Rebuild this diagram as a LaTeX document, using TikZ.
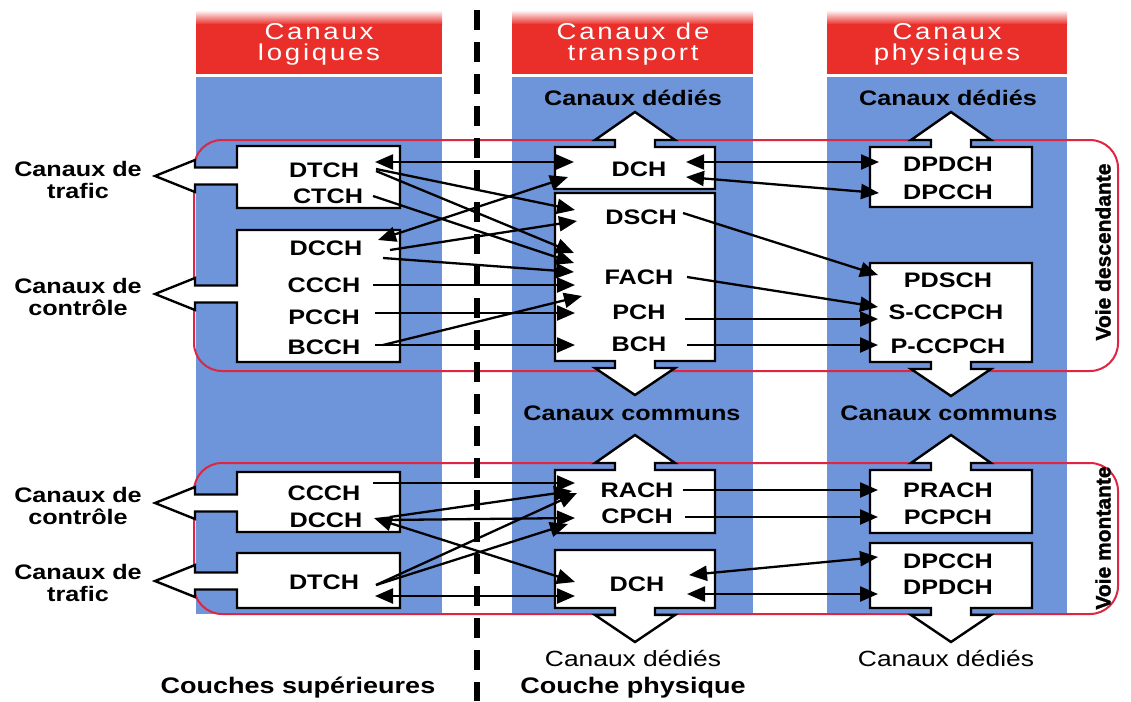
\documentclass[tikz,border=0pt]{standalone}
\usepackage{fontspec}
\setmainfont{Liberation Sans}
\newfontfamily\lblfont[FakeStretch=1.2]{Liberation Sans}
\newfontfamily\hdrfont[FakeStretch=1.2,LetterSpace=12]{Liberation Sans}
\newfontfamily\voiefont[FakeBold=1.5]{Liberation Sans Bold}
\usetikzlibrary{arrows.meta,calc}
\definecolor{colblue}{RGB}{110,148,218}
\definecolor{hdrred}{RGB}{234,46,42}
\definecolor{voiered}{RGB}{222,38,66}

% box with a left-pointing arrow (stem + head) on its left side
\newcommand\chanleftbox[5]{%
  \draw[chanbox] (#1,#2) -- (#3,#2) -- (#3,#4) -- (#1,#4) -- (#1,{#5+8.5})
    -- (195,{#5+8.5}) -- (195,{#5+16}) -- (155,#5) -- (195,{#5-16})
    -- (195,{#5-8.5}) -- (#1,{#5-8.5}) -- cycle;}
% box with an upward arrow on its top side
\newcommand\chanupbox[5]{%
  \draw[chanbox] (#1,#2) -- ({#5-20},#2) -- ({#5-20},{#2-7}) -- ({#5-40},{#2-7})
    -- (#5,{#2-35}) -- ({#5+40},{#2-7}) -- ({#5+20},{#2-7}) -- ({#5+20},#2)
    -- (#3,#2) -- (#3,#4) -- (#1,#4) -- cycle;}
% box with a downward arrow on its bottom side
\newcommand\chandownbox[5]{%
  \draw[chanbox] (#1,#2) -- (#3,#2) -- (#3,#4) -- ({#5+20},#4) -- ({#5+20},{#4+7})
    -- ({#5+40},{#4+7}) -- (#5,{#4+34}) -- ({#5-40},{#4+7}) -- ({#5-20},{#4+7})
    -- ({#5-20},#4) -- (#1,#4) -- cycle;}

\tikzset{
  chanbox/.style={draw=black, line width=2.4pt, fill=white, line join=miter},
  chan/.style={font=\lblfont\fontsize{21}{24}\bfseries\selectfont, inner sep=0pt},
  lbl/.style={font=\lblfont\fontsize{21}{22.5}\bfseries\selectfont, inner sep=0pt, align=center},
  lblreg/.style={font=\lblfont\fontsize{22}{24}\selectfont, inner sep=0pt},
  hdr/.style={font=\hdrfont\fontsize{23}{21}\selectfont, text=white, inner sep=0pt, align=center},
  voie/.style={draw=voiered, line width=2pt, rounded corners=28pt},
  voietxt/.style={font=\voiefont\fontsize{21}{24}\selectfont, inner sep=0pt, rotate=90},
  tipshape/.tip={Triangle[length=18pt,width=15pt]},
  link/.style={line width=2.3pt, -tipshape},
  dlink/.style={line width=2.3pt, tipshape-tipshape},
  divider/.style={line width=5.5pt, dash pattern=on 20pt off 12pt}
}

\begin{document}
\begin{tikzpicture}[x=1pt,y=-1pt]
\useasboundingbox (0,0) rectangle (1131,701);
\fill[white] (0,0) rectangle (1131,701);

% blue columns and red headers
\foreach \a/\b in {196/442,512/753,827/1067}{
  \fill[colblue] (\a,77) rectangle (\b,614);
  \shade[top color=white,bottom color=hdrred] (\a,10) rectangle (\b,24.5);
  \fill[hdrred] (\a,24) rectangle (\b,74);
}
\node[hdr] (hL) at (319,44) {Canaux\\logiques};
\node[hdr] (hT) at (633,44) {Canaux de\\transport};
\node[hdr] (hP) at (947,44) {Canaux\\physiques};

% downlink / uplink frames
\draw[voie] (194,140) rectangle (1118,371);
\draw[voie] (194,463) rectangle (1118,614);

% layer separator
\coordinate (dtop) at (477,10);
\coordinate (dbot) at (477,701);
\draw[divider] (dtop) -- (dbot);

% logical channel boxes
\chanleftbox{237}{146}{400}{208}{176}
\chanleftbox{237}{230}{400}{362}{294}
\chanleftbox{237}{472}{400}{532}{503}
\chanleftbox{237}{553}{400}{608}{581}
% transport channel boxes
\chanupbox{555}{147}{715}{189}{635}
\chandownbox{555}{193}{715}{361}{635}
\chanupbox{555}{470}{715}{533}{635}
\chandownbox{555}{550}{715}{608}{635}
% physical channel boxes
\chanupbox{870}{147}{1032}{207}{951}
\chandownbox{870}{263}{1032}{362}{951}
\chanupbox{870}{470}{1032}{533}{951}
\chandownbox{870}{543}{1032}{608}{951}

% group labels
\node[lbl] (gtrafA) at (78,180) {Canaux de\\trafic};
\node[lbl] (gctrlB) at (78,297) {Canaux de\\contrôle};
\node[lbl] (gctrlC) at (78,506) {Canaux de\\contrôle};
\node[lbl] (gtrafD) at (78,583) {Canaux de\\trafic};

\node[lbl] (cdT) at (633,98) {Canaux dédiés};
\node[lbl] (cdP) at (948,98) {Canaux dédiés};
\node[lbl] (ccT) at (632,413) {Canaux communs};
\node[lbl] (ccP) at (949,413) {Canaux communs};
\node[lblreg] (cdT2) at (633,658) {Canaux dédiés};
\node[lblreg] (cdP2) at (946,658) {Canaux dédiés};
\node[lbl, font=\lblfont\fontsize{22.5}{24}\bfseries\selectfont] (csup) at (298,688) {Couches supérieures};
\node[lbl, font=\lblfont\fontsize{22.5}{24}\bfseries\selectfont] (cphy) at (633,688) {Couche physique};
\node[voietxt] (vdesc) at (1103,252) {Voie descendante};
\node[voietxt] (vmont) at (1103,538) {Voie montante};

% channel names
\node[chan] (dtchA) at (324,170) {DTCH};
\node[chan] (ctchA) at (328,196) {CTCH};
\node[chan] (dcchB) at (326,248) {DCCH};
\node[chan] (ccchB) at (324,285) {CCCH};
\node[chan] (pcchB) at (324,317) {PCCH};
\node[chan] (bcchB) at (324,347) {BCCH};
\node[chan] (ccchC) at (324,493) {CCCH};
\node[chan] (dcchC) at (326,520) {DCCH};
\node[chan] (dtchD) at (324,582) {DTCH};
\node[chan] (dchE) at (639,169) {DCH};
\node[chan] (dschF) at (641,217) {DSCH};
\node[chan] (fachF) at (639,277) {FACH};
\node[chan] (pchF) at (639,312) {PCH};
\node[chan] (bchF) at (639,344) {BCH};
\node[chan] (rachG) at (637,490) {RACH};
\node[chan] (cpchG) at (637,516) {CPCH};
\node[chan] (dchH) at (637,584) {DCH};
\node[chan] (dpdchI) at (948,164) {DPDCH};
\node[chan] (dpcchI) at (948,192) {DPCCH};
\node[chan] (pdschJ) at (948,280) {PDSCH};
\node[chan] (sccpchJ) at (946,312) {S-CCPCH};
\node[chan] (pccpchJ) at (948,346) {P-CCPCH};
\node[chan] (prachK) at (948,490) {PRACH};
\node[chan] (pcpchK) at (948,517) {PCPCH};
\node[chan] (dpcchL) at (948,561) {DPCCH};
\node[chan] (dpdchL) at (948,587) {DPDCH};

% port columns
\coordinate (lout) at (375,0);
\coordinate (tin) at (574,0);
\coordinate (tout) at (686,0);
\coordinate (pin) at (879,0);

% downlink: logical -> transport
\draw[dlink] ($(dtchA.center -| lout)+(0,-8)$) -- ($(dchE.center -| tin)+(0,-7)$);
\draw[link] ($(dtchA.center -| lout)+(1,-1)$) -- ($(dschF.center -| tin)+(1,-7)$);
\draw[link] ($(dtchA.center -| lout)+(1,1)$) -- ($(fachF.center -| tin)+(0,-24)$);
\draw[link] ($(ctchA.center -| lout)+(-2,0)$) -- ($(fachF.center -| tin)+(0,-14)$);
\draw[dlink] ($(dcchB.center -| lout)+(3,-8)$) -- ($(dchE.center -| tin)+(-6,8)$);
\draw[link] ($(dcchB.center -| lout)+(15,2)$) -- ($(dschF.center -| tin)+(3,4)$);
\draw[link] ($(dcchB.center -| lout)+(8,10)$) -- ($(fachF.center -| tin)+(0,-5)$);
\draw[link] ($(ccchB.center -| lout)+(-2,0)$) -- ($(fachF.center -| tin)+(1,8)$);
\draw[link] ($(pcchB.center -| lout)+(0,-4)$) -- ($(pchF.center -| tin)+(1,1)$);
\draw[link] ($(bcchB.center -| lout)+(0,-2)$) -- ($(bchF.center -| tin)+(1,1)$);
\draw[link] ($(bcchB.center -| lout)+(8,-2)$) -- ($(fachF.center -| tin)+(8,19)$);

% downlink: transport -> physical
\draw[dlink] ($(dchE.center -| tout)+(0,-7)$) -- ($(dpdchI.center -| pin)+(0,-2)$);
\draw[dlink] ($(dchE.center -| tout)+(0,8)$) -- ($(dpcchI.center -| pin)+(0,1)$);
\draw[link] ($(dschF.center -| tout)+(-3,-4)$) -- ($(pdschJ.center -| pin)+(-1,-5)$);
\draw[link] ($(fachF.center -| tout)+(1,0)$) -- ($(sccpchJ.center -| pin)+(-1,-5)$);
\draw[link] ($(pchF.center -| tout)+(-1,7)$) -- ($(sccpchJ.center -| pin)+(-1,7)$);
\draw[link] ($(bchF.center -| tout)+(1,1)$) -- ($(pccpchJ.center -| pin)+(-1,-1)$);

% uplink: logical -> transport
\draw[link] ($(ccchC.center -| lout)+(-2,-10)$) -- ($(rachG.center -| tin)+(1,-7)$);
\draw[link] ($(dcchC.center -| lout)+(15,-3)$) -- ($(rachG.center -| tin)+(-2,1)$);
\draw[link] ($(dcchC.center -| lout)+(10,0)$) -- ($(cpchG.center -| tin)+(1,2)$);
\draw[dlink] ($(dcchC.center -| lout)+(-1,-2)$) -- ($(dchH.center -| tin)+(1,-2)$);
\draw[link] ($(dtchD.center -| lout)+(1,3)$) -- ($(rachG.center -| tin)+(3,3)$);
\draw[link] ($(dtchD.center -| lout)+(1,3)$) -- ($(cpchG.center -| tin)+(-6,8)$);
\draw[dlink] ($(dtchD.center -| lout)+(0,14)$) -- ($(dchH.center -| tin)+(1,12)$);

% uplink: transport -> physical
\draw[link] ($(rachG.center -| tout)+(-3,0)$) -- ($(prachK.center -| pin)+(-1,0)$);
\draw[link] ($(cpchG.center -| tout)+(-1,1)$) -- ($(pcpchK.center -| pin)+(-1,0)$);
\draw[dlink] ($(dchH.center -| tout)+(3,-9)$) -- ($(dpcchL.center -| pin)+(-1,-4)$);
\draw[dlink] ($(dchH.center -| tout)+(1,10)$) -- ($(dpdchL.center -| pin)+(-1,7)$);
\end{tikzpicture}
\end{document}
